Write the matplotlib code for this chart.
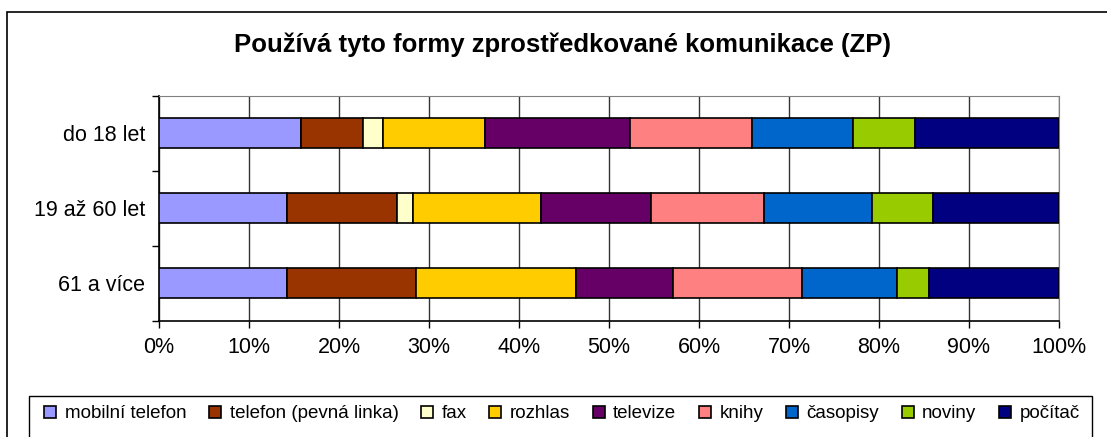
import numpy as np
import matplotlib.pyplot as plt
from matplotlib.patches import Rectangle

plt.rcParams['font.family'] = ['Liberation Sans', 'DejaVu Sans']

groups = ['do 18 let', '19 až 60 let', '61 a více']
series = ['mobilní telefon', 'telefon (pevná linka)', 'fax', 'rozhlas', 'televize',
          'knihy', 'časopisy', 'noviny', 'počítač']
colors = ['#9999FF', '#993300', '#FFFFCC', '#FFCC00', '#660066',
          '#FF8080', '#0066CC', '#99CC00', '#000080']

# percent share of each form per age group
mobil = [15.8, 14.2, 14.2]
telefon = [6.9, 12.2, 14.3]
fax = [2.2, 1.8, 0.0]
rozhlas = [11.3, 14.2, 17.8]
televize = [16.1, 12.3, 10.8]
knihy = [13.6, 12.5, 14.3]
casopisy = [11.2, 12.0, 10.6]
noviny = [6.9, 6.8, 3.6]
pocitac = [16.0, 14.0, 14.4]
values = [mobil, telefon, fax, rozhlas, televize, knihy, casopisy, noviny, pocitac]

fig = plt.figure(figsize=(11.07, 4.37), dpi=100)
W, H = 1107, 437

# outer chart frame
fig.patches.append(Rectangle((7 / W, -0.1), 1.2, (H - 12.5) / H + 0.1,
                             transform=fig.transFigure, fill=False,
                             edgecolor='black', linewidth=1.2))

ax = fig.add_axes([159 / W, 1 - 320.5 / H, 900 / W, 225 / H])

y = np.arange(len(groups))
left = np.zeros(len(groups))
for name, vals, col in zip(series, values, colors):
    vals = np.array(vals)
    ax.barh(y, vals, left=left, height=0.4, color=col, edgecolor='black',
            linewidth=1.2, label=name, zorder=3)
    left += vals

ax.set_xlim(0, 100)
ax.set_ylim(2.5, -0.5)
ax.set_xticks(np.arange(0, 101, 10))
ax.set_xticklabels([f'{v}%' for v in range(0, 101, 10)], fontsize=15.5)
ax.set_yticks(y)
ax.set_yticklabels(groups, fontsize=15.5)
ax.tick_params(axis='y', length=0, pad=10)
ax.set_yticks([-0.5, 0.5, 1.5, 2.5], minor=True)
ax.tick_params(axis='y', which='minor', length=5, width=1)
ax.tick_params(axis='x', length=5, width=1, pad=7)
ax.grid(axis='x', color='#333333', linewidth=1, zorder=0)
ax.spines['top'].set_color('#808080')
ax.spines['right'].set_color('#808080')
ax.spines['left'].set_linewidth(1.2)
ax.spines['bottom'].set_linewidth(1.2)

fig.text(563 / W, 1 - 45 / H, 'Používá tyto formy zprostředkované komunikace (ZP)',
         ha='center', va='center', fontsize=18.5, fontweight='bold')

# legend box, cut by the bottom of the image
fig.patches.append(Rectangle((29 / W, -0.1), (1092 - 29) / W, (H - 396) / H + 0.1,
                             transform=fig.transFigure, fill=False,
                             edgecolor='black', linewidth=1))
handles, labels = ax.get_legend_handles_labels()
fig.legend(handles, labels, loc='center', bbox_to_anchor=(562 / W, 1 - 414 / H),
           ncol=9, frameon=False, fontsize=13.5, handlelength=0.65, handleheight=0.65,
           handletextpad=0.45, columnspacing=1.2, borderpad=0)

fig.savefig('out.png', dpi=100)
